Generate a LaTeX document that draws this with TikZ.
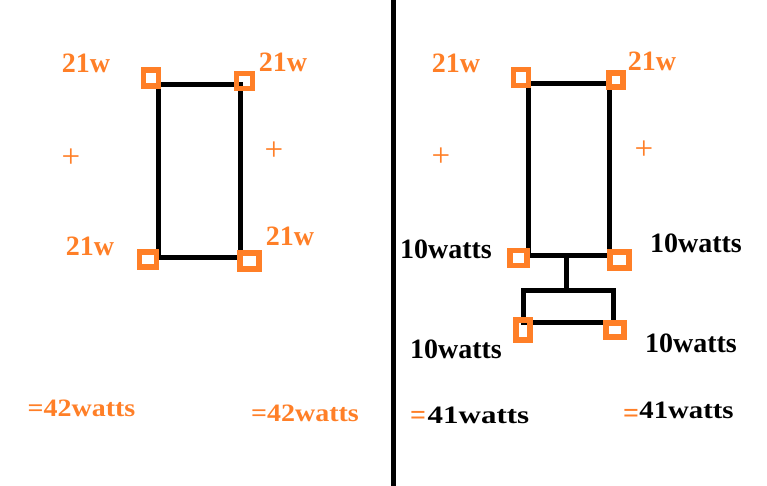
\documentclass[tikz,border=0pt]{standalone}
\usepackage{fontspec}
\setmainfont{Liberation Serif}
\definecolor{paintorange}{RGB}{255,127,39}
\tikzset{
  sq/.style={draw=paintorange, line width=5.5pt, inner sep=0pt, minimum width=#1},
  wire/.style={draw=black, line width=5pt},
  lab/.style={anchor=base, inner sep=0pt, font=\fontsize{28}{30}\selectfont\bfseries},
  olab/.style={lab, text=paintorange},
  blab/.style={lab, text=black},
  plus/.style={text=paintorange, inner sep=0pt, font=\fontsize{33}{36}\selectfont},
  eqs/.style={text=paintorange, inner sep=0pt, font=\fontsize{28}{30}\selectfont\bfseries},
  tot/.style={font=\fontsize{25}{27}\selectfont\bfseries}
}
\newcommand{\wide}[2]{\scalebox{#1}[1]{#2}}
\begin{document}
\begin{tikzpicture}[x=1pt,y=-1pt]
\useasboundingbox (0,0) rectangle (767,486);
\fill[white] (0,0) rectangle (767,486);
% divider
\coordinate (dtop) at (393,0);
\coordinate (dbot) at (393,486);
\draw[line width=5pt] (dtop) -- (dbot);

% ---- left circuit ----
\coordinate (l1) at (158,85);
\coordinate (l2) at (240,85);
\coordinate (l3) at (240,257);
\coordinate (l4) at (158,257);
\draw[wire] (l1) -- (l2) -- (l3) -- (l4) -- cycle;
\node[sq=15pt, minimum height=16pt] (sqA) at (151,78) {};
\node[sq=16pt, minimum height=15pt] (sqB) at (244.5,81) {};
\node[sq=17pt, minimum height=15pt] (sqC) at (148,259.5) {};
\node[sq=19pt, minimum height=16pt] (sqD) at (249.5,261) {};

% ---- right circuit ----
\coordinate (r1) at (528,84);
\coordinate (r2) at (609,84);
\coordinate (r3) at (609,255);
\coordinate (r4) at (528,255);
\coordinate (rs1) at (566.5,255);
\coordinate (rs2) at (566.5,290);
\coordinate (q1) at (523,290);
\coordinate (q2) at (613,290);
\coordinate (q3) at (613,322);
\coordinate (q4) at (523,322);
\draw[wire] (r1) -- (r2) -- (r3) -- (r4) -- cycle;
\draw[wire] (rs1) -- (rs2);
\draw[wire] (q1) -- (q2) -- (q3) -- (q4) -- cycle;
\node[sq=15pt, minimum height=16pt] (sqE) at (521,77.5) {};
\node[sq=14pt, minimum height=14pt] (sqF) at (616,80) {};
\node[sq=17pt, minimum height=15pt] (sqG) at (518.5,258) {};
\node[sq=19pt, minimum height=16pt] (sqH) at (619.5,260) {};
\node[sq=14pt, minimum height=20pt] (sqI) at (523,330) {};
\node[sq=18pt, minimum height=14pt] (sqJ) at (615,330) {};

% ---- labels left ----
\node[olab] (t1) at (86,73) {21w};
\node[olab] (t2) at (283,72) {21w};
\node[olab] (t3) at (90,255) {21w};
\node[olab] (t4) at (290,245) {21w};
\node[plus] (p1) at (71,158) {+};
\node[plus] (p2) at (274,151) {+};

% ---- labels right ----
\node[olab] (t5) at (456,73) {21w};
\node[olab] (t6) at (652,71) {21w};
\node[plus] (p3) at (441,157) {+};
\node[plus] (p4) at (644,150) {+};
\node[blab] (w1) at (446,258) {10watts};
\node[blab] (w2) at (696,252) {10watts};
\node[blab] (w3) at (456,358) {10watts};
\node[blab] (w4) at (691,352) {10watts};

% ---- totals ----
\node[olab, tot] (s1) at (81.5,416) {\wide{1.12}{=42watts}};
\node[olab, tot] (s2) at (305,421) {\wide{1.12}{=42watts}};
\node[eqs] (e1) at (418,418) {=};
\node[blab, tot] (s3) at (478.5,423) {\wide{1.24}{41watts}};
\node[eqs] (e2) at (631,416) {=};
\node[blab, tot] (s4) at (686.5,418) {\wide{1.15}{41watts}};
\end{tikzpicture}
\end{document}
